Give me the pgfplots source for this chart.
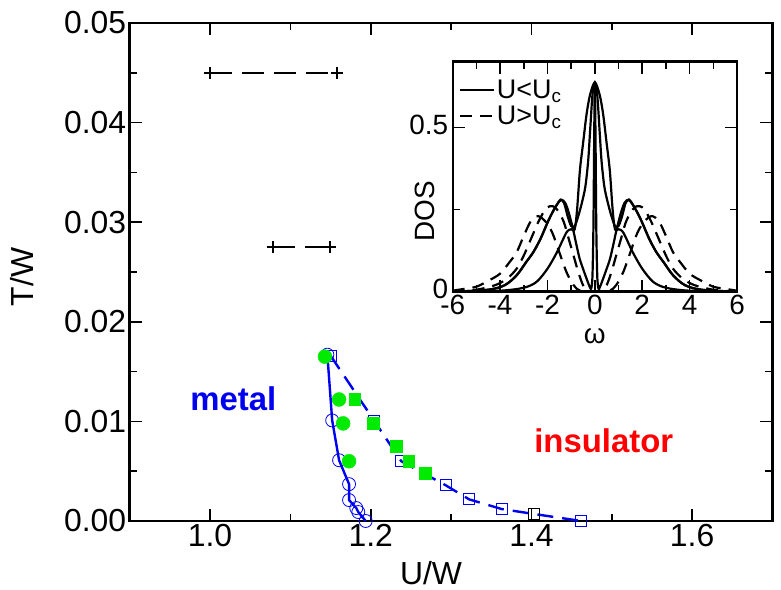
\documentclass[border=0pt]{standalone}
\usepackage{fontspec}
\setmainfont{Liberation Sans}
\usepackage{pgfplots}
\pgfplotsset{compat=1.18}
\definecolor{dmftblue}{RGB}{0,0,240}
\definecolor{nrggreen}{RGB}{0,235,0}

\begin{document}
\begin{tikzpicture}
\begin{axis}[name=main,
 scale only axis,width=642.8bp,height=498bp,
 xmin=0.9,xmax=1.7,ymin=0,ymax=0.05,
 xtick={1.0,1.2,1.4,1.6},minor xtick={0.9,1.1,1.3,1.5,1.7},
 ytick={0,0.01,...,0.05},minor ytick={0.005,0.015,...,0.045},
 xticklabel style={/pgf/number format/.cd,fixed,fixed zerofill,precision=1},
 yticklabel style={/pgf/number format/.cd,fixed,fixed zerofill,precision=2},
 /pgf/number format/assume math mode=true,
 scaled y ticks=false,
 tick align=inside,major tick length=12bp,minor tick length=7bp,
 every tick/.style={black,line width=1.6bp},
 axis line style={line width=2.6bp},
 tick label style={font=\fontsize{32}{32}\selectfont},
 label style={font=\fontsize{32}{32}\selectfont},
 xlabel={U/W},ylabel={T/W},
 xlabel style={at={(rel axis cs:0.5,0)},anchor=center,yshift=-52bp,xshift=-20bp},
 ylabel style={at={(rel axis cs:0,0.49)},anchor=center,yshift=108bp},
 clip=false]
% crossover estimates
\addplot[black,line width=2.2bp,dash pattern=on 22bp off 10bp,mark=+,mark size=6bp,
 mark options={solid,line width=2.2bp}] coordinates {(1.0,0.045)(1.158,0.045)};
\addplot[black,line width=2.2bp,dash pattern=on 22bp off 10bp,mark=+,mark size=6bp,
 mark options={solid,line width=2.2bp}] coordinates {(1.078,0.0275)(1.149,0.0275)};
% U_c1 line
\addplot[dmftblue,line width=2.4bp,mark=o,mark size=6.5bp,mark options={line width=0.8bp}] coordinates {
(1.146,0.0167)(1.152,0.0101)(1.1606,0.0061)(1.173,0.0037)(1.173,0.0021)(1.182,0.0013)(1.1845,0.0009)(1.1937,0.0)};
% U_c2 line
\addplot[dmftblue,line width=2.4bp,dash pattern=on 16bp off 9bp,mark=square,mark size=5.5bp,
 mark options={solid,line width=0.8bp}] coordinates {
(1.150,0.0166)(1.204,0.0101)(1.238,0.0060)(1.293,0.0036)(1.3225,0.00217)(1.363,0.0012)(1.4035,0.0007)(1.462,0.0)};
\addplot[only marks,black,mark=square,mark size=5.5bp,mark options={line width=1bp}] coordinates {(1.4035,0.0007)};
% green points
\addplot[only marks,nrggreen,mark=*,mark size=7bp] coordinates {
(1.143,0.0165)(1.1606,0.0122)(1.1656,0.0098)(1.173,0.0060)};
\addplot[only marks,nrggreen,mark=square*,mark size=5.8bp] coordinates {
(1.180,0.0122)(1.2027,0.0098)(1.2316,0.0075)(1.247,0.0060)(1.268,0.0048)};
\node[dmftblue,font=\fontsize{33}{33}\selectfont\bfseries] at (axis cs:1.029,0.0123) {metal};
\node[red,font=\fontsize{33}{33}\selectfont\bfseries] at (axis cs:1.49,0.0081) {insulator};
\end{axis}

\begin{axis}[at={(323bp,229.3bp)},anchor=south west,
 scale only axis,width=284.3bp,height=230bp,
 xmin=-6,xmax=6,ymin=0,ymax=0.7,
 xtick={-6,-4,...,6},minor xtick={-5,-3,...,5},
 ytick={0,0.5},minor ytick={0.25},
 /pgf/number format/assume math mode=true,
 tick align=inside,major tick length=12bp,minor tick length=7bp,
 every tick/.style={black,line width=1.6bp},
 axis line style={line width=2.4bp},
 axis background/.style={fill=white},
 tick label style={font=\fontsize{28}{28}\selectfont},
 yticklabel style={xshift=-1bp,yshift=3bp},
 label style={font=\fontsize{28}{28}\selectfont},
 xlabel={ω},ylabel={DOS},
 xlabel style={at={(rel axis cs:0.5,0)},anchor=center,yshift=-44bp},
 ylabel style={at={(rel axis cs:0,0.35)},anchor=center,yshift=28bp},
 legend style={draw=none,fill=none,at={(rel axis cs:0.02,0.93)},anchor=north west,
  font=\fontsize{27}{27}\selectfont,row sep=2bp,inner sep=0pt},
 legend cell align=left,
 legend image code/.code={\draw[#1,line width=2.4bp] (0bp,0bp) -- (34bp,0bp);}]
% U < U_c
\addplot[black,line width=2.2bp,smooth] coordinates {
(-6,0)(-4,0.003)(-3,0.012)(-2.46,0.03)(-2,0.07)(-1.6,0.12)(-1.2,0.18)(-1.0,0.19)(-0.85,0.19)(-0.75,0.25)(-0.63,0.37)(-0.5,0.45)(-0.35,0.54)(-0.2,0.6)(0,0.637)
(0.2,0.6)(0.35,0.54)(0.5,0.45)(0.63,0.37)(0.75,0.25)(0.85,0.19)(1.0,0.19)(1.2,0.18)(1.6,0.12)(2,0.07)(2.46,0.03)(3,0.012)(4,0.003)(6,0)};
\addlegendentry{U<U\textsubscript{c}}
\addplot[black,line width=2.2bp,dash pattern=on 12bp off 8bp,smooth] coordinates {
(-6,0.003)(-5.4,0.01)(-5,0.015)(-4.45,0.035)(-4,0.055)(-3.6,0.09)(-3.3,0.12)(-3,0.17)(-2.7,0.215)(-2.4,0.23)(-2.1,0.215)(-1.8,0.18)(-1.5,0.12)(-1.2,0.06)(-0.9,0.02)(-0.6,0.002)(0,0)
(0.6,0.002)(0.9,0.02)(1.2,0.06)(1.5,0.12)(1.8,0.18)(2.1,0.215)(2.4,0.23)(2.7,0.215)(3,0.17)(3.3,0.12)(3.6,0.09)(4,0.055)(4.45,0.035)(5,0.015)(5.4,0.01)(6,0.003)};
\addlegendentry{U>U\textsubscript{c}}
\addplot[forget plot,black,line width=2.2bp,smooth] coordinates {
(-6,0)(-4.5,0.006)(-3.8,0.02)(-3.3,0.05)(-2.9,0.09)(-2.6,0.12)(-2.3,0.16)(-2.0,0.21)(-1.8,0.24)(-1.6,0.265)(-1.45,0.28)(-1.3,0.27)(-1.15,0.23)(-1.0,0.2)(-0.85,0.2)(-0.7,0.23)(-0.55,0.27)(-0.4,0.32)(-0.28,0.4)(-0.2,0.49)(-0.1,0.6)(0,0.637)
(0.1,0.6)(0.2,0.49)(0.28,0.4)(0.4,0.32)(0.55,0.27)(0.7,0.23)(0.85,0.2)(1.0,0.2)(1.15,0.23)(1.3,0.27)(1.45,0.28)(1.6,0.265)(1.8,0.24)(2.0,0.21)(2.3,0.16)(2.6,0.12)(2.9,0.09)(3.3,0.05)(3.8,0.02)(4.5,0.006)(6,0)};
\addplot[forget plot,black,line width=2.2bp,smooth] coordinates {
(-6,0)(-4.5,0.006)(-3.8,0.02)(-3.3,0.05)(-2.9,0.09)(-2.6,0.12)(-2.3,0.16)(-2.0,0.21)(-1.8,0.24)(-1.6,0.265)(-1.42,0.28)(-1.25,0.27)(-1.1,0.24)(-0.92,0.19)(-0.8,0.15)(-0.64,0.1)(-0.45,0.06)(-0.3,0.03)(-0.2,0.012)(-0.15,0.01)(-0.1,0.05)(-0.06,0.2)(-0.03,0.45)(0,0.637)
(0.03,0.45)(0.06,0.2)(0.1,0.05)(0.15,0.01)(0.2,0.012)(0.3,0.03)(0.45,0.06)(0.64,0.1)(0.8,0.15)(0.92,0.19)(1.1,0.24)(1.25,0.27)(1.42,0.28)(1.6,0.265)(1.8,0.24)(2.0,0.21)(2.3,0.16)(2.6,0.12)(2.9,0.09)(3.3,0.05)(3.8,0.02)(4.5,0.006)(6,0)};
% U > U_c
\addplot[forget plot,black,line width=2.2bp,dash pattern=on 12bp off 8bp,smooth] coordinates {
(-6,0)(-5,0.006)(-4.2,0.02)(-3.7,0.04)(-3.3,0.07)(-3,0.11)(-2.7,0.16)(-2.4,0.21)(-2.1,0.25)(-1.9,0.26)(-1.7,0.258)(-1.5,0.24)(-1.3,0.21)(-1.1,0.16)(-0.9,0.11)(-0.7,0.06)(-0.5,0.02)(-0.3,0.003)(0,0)
(0.3,0.003)(0.5,0.02)(0.7,0.06)(0.9,0.11)(1.1,0.16)(1.3,0.21)(1.5,0.24)(1.7,0.258)(1.9,0.26)(2.1,0.25)(2.4,0.21)(2.7,0.16)(3,0.11)(3.3,0.07)(3.7,0.04)(4.2,0.02)(5,0.006)(6,0)};
\end{axis}
\path (-129.7bp,-69bp) rectangle (651.3bp,521bp);
\end{tikzpicture}
\end{document}
